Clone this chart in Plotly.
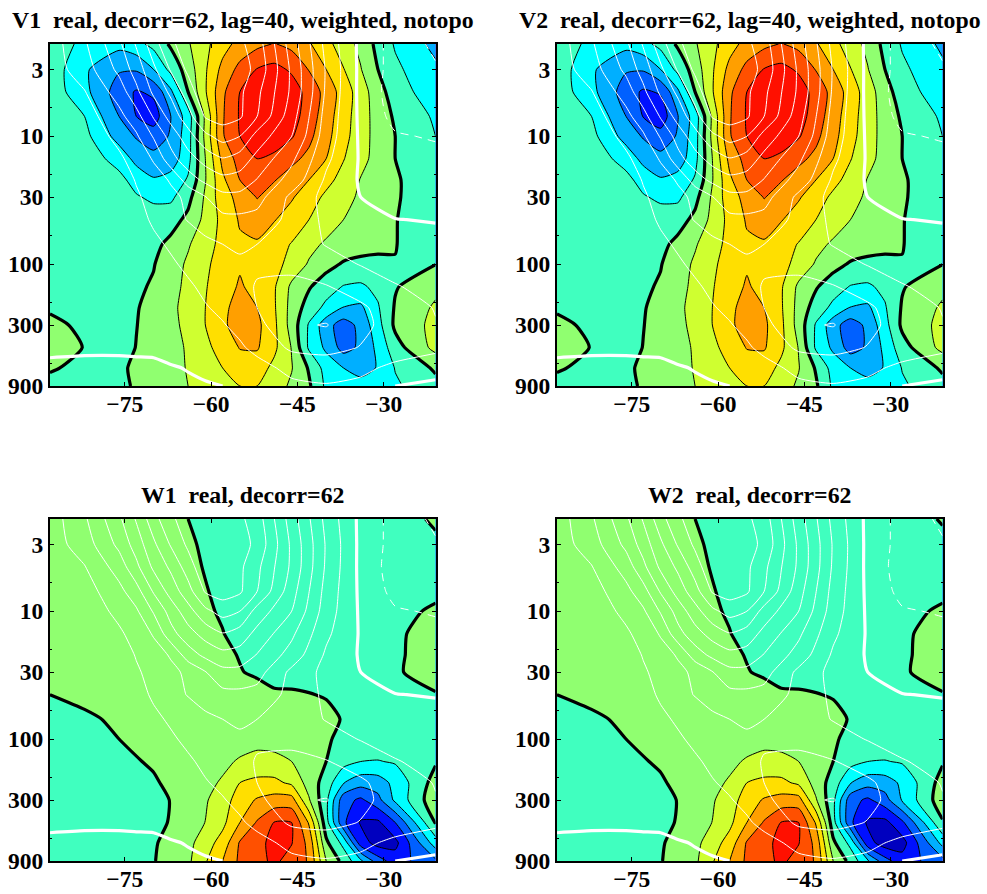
import plotly.graph_objects as go

v_lons = [-88, -82, -76, -73, -70, -67, -64, -58, -55, -52, -49, -46, -43, -40, -37, -34, -31, -28, -21]
w_lons = [-88, -82, -76, -70, -64, -58, -55, -52, -49, -46, -43, -40, -37, -34, -31, -28, -21]
u_lons = [-88, -82, -76, -73, -70, -67, -64, -61, -58, -55, -52, -46, -40, -34, -28, -21]
levels = [1.9, 3, 4.5, 7, 10, 15, 22, 30, 45, 70, 100, 150, 220, 300, 450, 650, 900]

v1 = [
 [-.3,-1.3,-1.7,-1.3,-.7,.15,.9,2.6,3.35,3.75,4.05,3.7,3.1,2.35,1.45,.75,-.3,-1.1,-2.3],
 [-.4,-1.85,-2.9,-2.9,-2.0,-.7,.45,3.3,4.3,5.05,5.3,4.85,3.95,3.0,2.05,1.05,0,-.8,-1.8],
 [-.4,-1.7,-3.5,-4.1,-3.8,-2.2,0,3.8,5.0,5.45,5.7,5.5,4.65,3.65,2.55,1.5,.4,-.5,-1.6],
 [-.2,-1.0,-3.0,-4.0,-4.5,-3.0,-1.5,3.9,5.1,5.7,5.85,5.4,4.55,3.45,2.45,1.45,.6,-.15,-1.15],
 [-.1,-.7,-2.4,-3.1,-3.5,-2.9,-1.4,3.9,5.0,5.6,5.5,5.1,4.25,3.3,2.35,1.4,.65,0,-1.0],
 [-.1,-.4,-1.4,-2.3,-2.7,-2.6,-1.3,3.3,4.4,5.0,4.8,4.25,3.75,3.0,2.05,1.3,.65,0,-.7],
 [-.1,-.25,-.7,-1.4,-1.9,-1.6,-.9,2.8,4.0,4.5,4.05,3.55,3.0,2.3,1.65,.95,.45,.1,-.6],
 [-.1,-.2,-.5,-.9,-1.2,-1.2,-.3,2.6,3.3,4.05,3.55,3.1,2.45,1.8,1.3,.85,.4,.08,-.5],
 [-.1,-.15,-.3,-.45,-.5,-.4,.25,2.3,3.1,3.4,3.05,2.55,2.0,1.5,1.0,.65,.3,.03,-.5],
 [-.15,-.2,-.3,-.3,-.25,.25,.9,2.3,2.85,2.9,2.4,1.95,1.3,.85,.6,.4,.2,.02,-.4],
 [-.2,-.2,-.3,-.25,-.05,.55,1.15,2.45,2.9,2.8,2.35,1.65,.9,.35,-.1,-.25,-.2,-.02,-.02],
 [-.25,-.25,-.3,-.15,.1,.65,1.25,2.6,3.1,2.7,2.1,.8,.1,-.55,-1.05,-1.15,-.75,-.08,.75],
 [-.2,-.3,-.4,-.05,.25,.8,1.3,2.7,3.5,3.0,2.1,.65,-.45,-1.25,-2.05,-2.2,-1.1,.1,1.15],
 [.35,-.3,-.4,-.02,.3,.8,1.2,2.8,3.5,3.25,2.2,.6,-1.1,-2.6,-3.5,-2.7,-1.35,.2,1.3],
 [.7,-.05,-.3,.02,.35,.7,1.1,2.4,3.05,3.1,2.2,.95,-1.15,-2.2,-3.4,-2.8,-1.75,-.4,1.3],
 [.1,-.25,-.1,.1,.4,.75,1.05,2.0,2.5,2.45,1.75,1.05,-.1,-1.4,-2.0,-2.3,-1.95,-.95,.15],
 [-.3,-.3,-.2,.1,.45,.75,1.0,1.7,2.0,2.0,1.4,.85,.15,-1.2,-1.6,-1.7,-1.45,-1.15,-.3],
]
v2 = [
 [-.3,-1.3,-1.7,-1.3,-.7,.15,.9,2.6,3.35,3.75,4.05,3.7,3.1,2.35,1.45,.75,-.3,-1.1,-2.2],
 [-.4,-1.85,-2.9,-2.9,-2.0,-.7,.45,3.3,4.3,5.05,5.3,4.85,3.95,3.0,2.05,1.05,0,-.8,-1.8],
 [-.4,-1.7,-3.5,-4.15,-3.9,-2.2,0,3.8,5.0,5.45,5.7,5.5,4.65,3.65,2.55,1.5,.4,-.5,-1.6],
 [-.2,-1.0,-3.0,-4.05,-4.6,-3.05,-1.5,3.9,5.1,5.7,5.85,5.4,4.55,3.45,2.45,1.45,.6,-.15,-1.15],
 [-.1,-.7,-2.4,-3.1,-3.6,-2.9,-1.4,3.9,5.0,5.6,5.5,5.1,4.25,3.3,2.35,1.4,.65,0,-1.0],
 [-.1,-.4,-1.4,-2.3,-2.7,-2.6,-1.3,3.3,4.4,5.0,4.8,4.25,3.75,3.0,2.05,1.3,.65,0,-.7],
 [-.1,-.25,-.7,-1.4,-1.9,-1.6,-.9,2.8,4.0,4.5,4.05,3.55,3.0,2.3,1.65,.95,.45,.1,-.6],
 [-.1,-.2,-.5,-.9,-1.2,-1.2,-.3,2.6,3.3,4.05,3.55,3.1,2.45,1.8,1.3,.85,.4,.08,-.5],
 [-.1,-.15,-.3,-.45,-.5,-.4,.25,2.3,3.1,3.4,3.05,2.55,2.0,1.5,1.0,.65,.3,.03,-.5],
 [-.15,-.2,-.3,-.3,-.25,.25,.9,2.3,2.85,2.9,2.4,1.95,1.3,.85,.6,.4,.2,.02,-.4],
 [-.2,-.2,-.3,-.25,-.05,.55,1.15,2.45,2.9,2.8,2.35,1.65,.9,.35,-.1,-.25,-.2,-.02,-.02],
 [-.25,-.25,-.3,-.15,.1,.65,1.25,2.6,3.1,2.7,2.1,.8,.1,-.55,-1.05,-1.15,-.75,-.08,.75],
 [-.2,-.3,-.4,-.05,.25,.8,1.3,2.7,3.5,3.0,2.1,.65,-.45,-1.25,-2.05,-2.2,-1.1,.1,1.15],
 [.35,-.3,-.4,-.02,.3,.8,1.2,2.8,3.45,3.2,2.2,.6,-1.1,-2.6,-3.55,-2.75,-1.35,.2,1.3],
 [.7,-.05,-.3,.02,.35,.7,1.1,2.4,3.05,3.1,2.2,.95,-1.15,-2.2,-3.45,-2.85,-1.75,-.4,1.3],
 [.1,-.25,-.1,.1,.4,.75,1.05,2.0,2.5,2.45,1.75,1.05,-.1,-1.4,-2.0,-2.3,-1.95,-.95,.15],
 [-.3,-.3,-.2,.1,.45,.75,1.0,1.7,2.0,2.0,1.4,.85,.15,-1.2,-1.6,-1.7,-1.45,-1.15,-.3],
]
w1 = [
 [.5,.6,.5,.3,0,-.3,-.35,-.4,-.4,-.4,-.4,-.4,-.4,-.4,-.35,-.3,.1],
 [.5,.6,.5,.4,.1,-.3,-.35,-.4,-.4,-.4,-.4,-.4,-.4,-.4,-.35,-.3,-.12],
 [.5,.6,.5,.45,.2,-.3,-.4,-.45,-.45,-.45,-.45,-.4,-.4,-.4,-.35,-.3,-.2],
 [.5,.6,.5,.45,.3,-.2,-.4,-.45,-.45,-.45,-.45,-.4,-.4,-.35,-.3,-.25,-.15],
 [.5,.6,.5,.45,.35,-.1,-.35,-.4,-.45,-.45,-.45,-.4,-.35,-.3,-.25,-.2,.1],
 [.4,.5,.5,.45,.4,.03,-.3,-.35,-.4,-.4,-.4,-.35,-.35,-.3,-.2,-.1,.25],
 [.35,.45,.5,.5,.45,.2,-.05,-.2,-.3,-.35,-.35,-.35,-.3,-.3,-.2,-.1,.3],
 [.3,.4,.45,.5,.5,.35,.05,-.15,-.25,-.3,-.3,-.3,-.3,-.3,-.2,-.08,.3],
 [0,.15,.3,.4,.5,.5,.45,.4,.1,.1,.03,-.05,-.2,-.3,-.25,-.2,-.05],
 [-.2,-.1,.1,.3,.45,.5,.5,.5,.45,.4,.35,.2,-.05,-.25,-.25,-.25,-.2],
 [-.25,-.25,0,.25,.45,.55,.6,.7,.65,.55,.35,.1,-.2,-.3,-.3,-.3,-.2],
 [-.3,-.3,-.2,.1,.5,.8,1.1,1.3,1.25,1.0,.5,0,-.65,-1.0,-1.05,-.9,-.1],
 [-.3,-.3,-.3,-.1,.45,1.1,2.0,2.25,2.25,1.8,.6,-.45,-1.95,-2.6,-2.5,-1.7,.4],
 [-.3,-.3,-.3,-.25,.3,1.5,2.5,3.1,3.4,3.4,1.1,-.75,-3.6,-4.2,-3.3,-1.8,.7],
 [-.3,-.3,-.3,-.2,.3,1.75,3.0,4.1,5.05,5.0,2.9,-.6,-3.8,-5.1,-5.2,-4.0,.1],
 [-.35,-.35,-.3,-.1,.7,2.4,4.1,4.6,5.4,5.05,3.7,.2,-1.3,-4.5,-5.4,-5.3,-1.5],
 [-.4,-.4,-.3,-.05,.8,3.0,4.2,4.7,5.2,4.6,3.9,1.0,-.3,-1.8,-3.5,-4.5,-3.2],
]
w2 = [
 [.5,.6,.5,.3,0,-.3,-.35,-.4,-.4,-.4,-.4,-.4,-.4,-.4,-.35,-.3,.05],
 [.5,.6,.5,.4,.1,-.3,-.35,-.4,-.4,-.4,-.4,-.4,-.4,-.4,-.35,-.3,-.15],
 [.5,.6,.5,.45,.2,-.3,-.4,-.45,-.45,-.45,-.45,-.4,-.4,-.4,-.35,-.3,-.2],
 [.5,.6,.5,.45,.3,-.2,-.4,-.45,-.45,-.45,-.45,-.4,-.4,-.35,-.3,-.25,-.15],
 [.5,.6,.5,.45,.35,-.1,-.35,-.4,-.45,-.45,-.45,-.4,-.35,-.3,-.25,-.2,.1],
 [.4,.5,.5,.45,.4,.03,-.3,-.35,-.4,-.4,-.4,-.35,-.35,-.3,-.2,-.1,.25],
 [.35,.45,.5,.5,.45,.2,-.05,-.2,-.3,-.35,-.35,-.35,-.3,-.3,-.2,-.1,.3],
 [.3,.4,.45,.5,.5,.35,.05,-.15,-.25,-.3,-.3,-.3,-.3,-.3,-.2,-.08,.3],
 [0,.15,.3,.4,.5,.5,.45,.4,.1,.1,.03,-.05,-.2,-.3,-.25,-.2,-.05],
 [-.2,-.1,.1,.3,.45,.5,.5,.5,.45,.4,.35,.2,-.05,-.25,-.25,-.25,-.2],
 [-.25,-.25,0,.25,.45,.55,.6,.7,.65,.55,.35,.1,-.2,-.3,-.3,-.3,-.2],
 [-.3,-.3,-.2,.1,.5,.8,1.1,1.3,1.25,1.0,.5,0,-.65,-1.0,-1.05,-.9,-.1],
 [-.3,-.3,-.3,-.1,.45,1.1,2.0,2.25,2.25,1.8,.6,-.45,-1.95,-2.6,-2.5,-1.8,.4],
 [-.3,-.3,-.3,-.25,.3,1.5,2.5,3.1,3.4,3.4,1.1,-.75,-3.6,-4.2,-3.4,-1.9,.6],
 [-.3,-.3,-.3,-.2,.3,1.75,3.0,4.1,5.05,5.0,2.9,-.6,-3.8,-5.15,-5.3,-4.2,-.1],
 [-.35,-.35,-.3,-.1,.7,2.4,4.1,4.6,5.4,5.05,3.7,.2,-1.3,-4.6,-5.5,-5.4,-1.7],
 [-.4,-.4,-.3,-.05,.8,3.0,4.2,4.7,5.2,4.6,3.9,1.0,-.3,-1.9,-3.6,-4.6,-3.3],
]
u = [
 [.5,1.85,3.8,5.1,6.6,7.85,8.4,8.5,8.6,8.2,7.5,4.5,1.7,-.25,-1.4,-2.2],
 [.5,1.5,3.25,4.45,5.8,7.1,8.2,8.6,8.85,8.4,7.75,4.8,1.9,-.25,-1.4,-1.9],
 [.4,.95,2.45,3.75,5.2,6.2,7.5,8.8,8.9,8.2,7.25,4.8,1.85,-.25,-1.5,-1.9],
 [.3,.55,1.7,2.6,4.1,5.4,6.6,8.1,8.45,8.15,7.0,4.4,1.65,-.2,-1.3,-1.9],
 [.25,.4,1.25,1.85,3.1,4.4,5.6,6.75,7.4,7.0,5.6,4.0,1.5,-.15,-.9,-1.1],
 [.2,.3,.85,1.35,2.1,3.65,4.6,5.4,5.95,5.55,4.7,3.2,1.2,-.1,-.6,-.7],
 [.2,.25,.6,1.05,1.55,2.1,3.5,4.25,4.7,4.6,3.95,2.6,.85,-.1,-.5,-.6],
 [.2,.25,.45,.9,1.25,1.75,2.2,2.95,3.7,3.7,3.4,1.75,.7,0,-.35,-.45],
 [.2,.25,.4,.75,1.1,1.65,2.05,2.5,2.7,2.75,2.65,1.7,.8,.15,.02,-.05],
 [.2,.25,.4,.6,.85,1.1,1.45,1.75,2.0,2.15,2.0,1.5,.95,.6,.45,.3],
 [.2,.25,.4,.5,.7,.9,1.15,1.4,1.65,1.85,1.8,1.8,1.4,.95,.7,.45],
 [.2,.25,.35,.45,.55,.7,.9,1.15,1.35,1.6,2.1,2.2,2.05,1.6,1.05,.75],
 [.2,.2,.3,.4,.45,.6,.75,.95,1.15,1.5,2.0,2.3,2.55,2.15,1.5,.95],
 [.15,.15,.25,.3,.35,.45,.6,.75,.95,1.2,1.7,2.85,3.05,2.3,1.5,1.05],
 [.1,.1,.1,.1,.1,.25,.4,.55,.7,.9,1.2,2.2,2.4,1.95,1.35,1.1],
 [-.1,-.15,-.15,-.12,-.1,-.05,.03,.12,.25,.45,.75,1.2,1.3,1.15,.85,.75],
 [-.3,-.3,-.3,-.25,-.2,-.15,-.1,-.05,0,.2,.4,.85,.95,.85,0,-.4],
]

band_colors = ["#0000BF", "#0000BF", "#0010FF", "#0060FF", "#00AFFF", "#00FFFF", "#40FFBF",
               "#90FF70", "#CFFF30", "#FFDF00", "#FF9F00", "#FF5000", "#FF1000", "#FF1000"]
x_ticks = [-75, -60, -45, -30]
x_labels = ["\u221275", "\u221260", "\u221245", "\u221230"]
y_ticks = [3, 10, 30, 100, 300, 900]
y_labels = ["3", "10", "30", "100", "300", "900"]
y_minor = [6, 20, 60, 200, 600]
titles = ["V1\u00a0 real, decorr=62, lag=40, weighted, notopo",
          "V2\u00a0 real, decorr=62, lag=40, weighted, notopo",
          "W1\u00a0 real, decorr=62", "W2\u00a0 real, decorr=62"]

W, H = 987, 894
FONT = "Liberation Serif"
n = len(band_colors)
scale = []
for i, c in enumerate(band_colors):
    scale += [[i / n, c], [(i + 1) / n, c]]

fig = go.Figure()
panels = [(v1, v_lons, 50, 435.5, 44, 386, titles[0], 1), (v2, v_lons, 557, 942.5, 44, 386, titles[1], 2),
          (w1, w_lons, 50, 435.5, 519, 861, titles[2], 3), (w2, w_lons, 557, 942.5, 519, 861, titles[3], 4)]
SM = 0.6
for z, lons, x0, x1, y0, y1, title, k in panels:
    sx = "" if k == 1 else str(k)
    xa, ya = "x" + sx, "y" + sx
    common = dict(y=levels, xaxis=xa, yaxis=ya, showscale=False, hoverinfo="skip")
    fig.add_trace(go.Contour(z=z, x=lons, colorscale=scale, autocontour=False, zmin=-7, zmax=7,
                             contours=dict(start=-6, end=6, size=1, coloring="fill"),
                             line=dict(color="black", width=1, smoothing=SM), **common))
    fig.add_trace(go.Contour(z=z, x=lons, autocontour=False,
                             contours=dict(start=0, end=0, size=1, coloring="none"),
                             line=dict(color="black", width=3.2, smoothing=SM), **common))
    fig.add_trace(go.Contour(z=u, x=u_lons, autocontour=False,
                             contours=dict(start=1, end=8, size=1, coloring="none"),
                             line=dict(color="white", width=1, smoothing=SM), **common))
    fig.add_trace(go.Contour(z=u, x=u_lons, autocontour=False,
                             contours=dict(start=0, end=0, size=1, coloring="none"),
                             line=dict(color="white", width=3.2, smoothing=SM), **common))
    fig.add_trace(go.Contour(z=u, x=u_lons, autocontour=False,
                             contours=dict(start=-2, end=-1, size=1, coloring="none"),
                             line=dict(color="white", width=1, dash="8px,6px", smoothing=SM), **common))
    axis_font = dict(family=FONT, size=23.5, color="black", weight="bold")
    fig.update_layout({
        "xaxis" + sx: dict(domain=[x0 / W, x1 / W], range=[-88, -21], tickmode="array",
                           tickvals=x_ticks, ticktext=x_labels, ticks="inside", ticklen=4,
                           tickcolor="black", showline=True, mirror="ticks", linecolor="black",
                           linewidth=2, showgrid=False, zeroline=False, tickfont=axis_font,
                           ticklabelstandoff=-4, anchor=ya),
        "yaxis" + sx: dict(domain=[1 - y1 / H, 1 - y0 / H], type="log",
                           range=[2.954243, 0.278754], tickmode="array",
                           tickvals=y_ticks, ticktext=y_labels, ticks="inside", ticklen=4,
                           tickcolor="black", showline=True, mirror="ticks", linecolor="black",
                           linewidth=2, showgrid=False, zeroline=False, tickfont=axis_font,
                           minor=dict(tickmode="array", tickvals=y_minor, ticks="inside",
                                      ticklen=2, tickcolor="black", showgrid=False),
                           anchor=xa),
    })
    fig.add_annotation(text=title, xref="paper", yref="paper", showarrow=False,
                       x=(x0 + x1) / 2 / W, y=1 - (y0 - 24) / H, yanchor="middle",
                       xanchor="center",
                       font=dict(family=FONT, size=23.8, color="black", weight="bold"))

fig.update_layout(width=W, height=H, margin=dict(l=0, r=0, t=0, b=0, pad=0, autoexpand=False),
                  paper_bgcolor="white", plot_bgcolor="white", showlegend=False)
fig.write_html("out.html", config={"displayModeBar": False},
               post_script="document.body.style.margin='0';document.body.style.overflow='hidden';")
